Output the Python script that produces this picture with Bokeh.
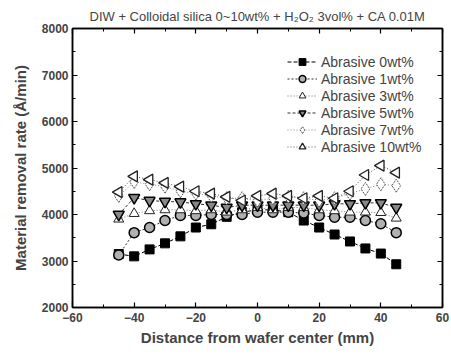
import math
from bokeh.plotting import figure
from bokeh.models import LinearAxis, Range1d, Legend, LegendItem, FixedTicker, ColumnDataSource
from bokeh.embed import file_html
from bokeh.resources import INLINE

distance = [-45, -40, -35, -30, -25, -20, -15, -10, -5, 0, 5, 10, 15, 20, 25, 30, 35, 40, 45]
abr0 = [3150, 3100, 3250, 3380, 3530, 3720, 3790, 3950, 4050, 4100, 4100, 4050, 3870, 3720, 3570, 3420, 3270, 3160, 2930]
abr1 = [3130, 3610, 3720, 3870, 3980, 3980, 4000, 4000, 4000, 4050, 4050, 4050, 4030, 3980, 3940, 3940, 3870, 3800, 3610]
abr3 = [3900, 4020, 4080, 4100, 4100, 4080, 4100, 4050, 4100, 4150, 4100, 4150, 4150, 4100, 4080, 4050, 4050, 4040, 3920]
abr5 = [4000, 4360, 4300, 4280, 4270, 4230, 4200, 4150, 4200, 4200, 4200, 4200, 4200, 4200, 4230, 4230, 4250, 4250, 4150]
abr7 = [4400, 4700, 4650, 4600, 4500, 4450, 4400, 4350, 4350, 4300, 4350, 4380, 4350, 4300, 4350, 4450, 4550, 4650, 4620]
abr10 = [4480, 4820, 4750, 4680, 4600, 4500, 4450, 4380, 4300, 4400, 4450, 4400, 4350, 4400, 4350, 4500, 4850, 5050, 4900]
labels = ["Abrasive 0wt%", "Abrasive 1wt%", "Abrasive 3wt%", "Abrasive 5wt%", "Abrasive 7wt%", "Abrasive 10wt%"]
x_ticks = [-60, -40, -20, 0, 20, 40, 60]
y_ticks = [2000, 3000, 4000, 5000, 6000, 7000, 8000]
title_text = "DIW + Colloidal silica 0~10wt% + H\u2082O\u2082 3vol% + CA 0.01M"

FONT = "Liberation Sans"

p = figure(width=451, height=354, output_backend="svg", toolbar_location=None,
           x_range=Range1d(-60, 60), y_range=Range1d(2000, 8000),
           min_border_left=72, min_border_right=9, min_border_top=28, min_border_bottom=47)
p.title.text = title_text
p.title.align = "center"
p.title.text_font = FONT
p.title.text_font_style = "normal"
p.title.text_font_size = "13px"
p.title.offset = 30
p.grid.visible = False
p.outline_line_color = "black"
p.outline_line_width = 1.5

def style_axis(ax, show_labels=True, ticks=None):
    ax.major_tick_in = 5
    ax.major_tick_out = 0
    ax.minor_tick_in = 3
    ax.minor_tick_out = 0
    ax.axis_line_width = 1.5
    ax.major_tick_line_width = 1.2
    ax.major_label_text_font = FONT
    ax.major_label_text_font_style = "bold"
    ax.major_label_text_font_size = "12px"
    ax.axis_label_text_font = FONT
    ax.axis_label_text_font_style = "bold"
    ax.axis_label_text_font_size = "15px"
    if not show_labels:
        ax.major_label_overrides = {t: "" for t in ticks}

xa = p.xaxis[0]
xa.ticker = FixedTicker(ticks=x_ticks, minor_ticks=list(range(-60, 61, 10)))
xa.axis_label = "Distance from wafer center (mm)"
style_axis(xa)
xa.major_label_standoff = 5
xa.axis_label_standoff = 4
ya = p.yaxis[0]
ya.ticker = FixedTicker(ticks=y_ticks, minor_ticks=list(range(2000, 8001, 500)))
ya.axis_label = "Material removal rate (\u00c5/min)"
style_axis(ya)
ya.major_label_standoff = 4
ya.axis_label_standoff = 10

top = LinearAxis(ticker=FixedTicker(ticks=x_ticks, minor_ticks=list(range(-60, 61, 10))))
style_axis(top, False, x_ticks)
top.major_label_standoff = 0
p.add_layout(top, "above")
right = LinearAxis(ticker=FixedTicker(ticks=y_ticks, minor_ticks=list(range(2000, 8001, 500))))
style_axis(right, False, y_ticks)
right.major_label_standoff = 0
p.add_layout(right, "right")

src10 = ColumnDataSource(dict(x=distance, y=abr10, ang=[math.pi / 2] * len(distance)))

series = [
    (abr0, dict(marker="square", size=9, fill_color="black", line_color="black"), "4 2", "black"),
    (abr1, dict(marker="circle", size=10, fill_color="#b0b0b0", line_color="black", line_width=1.5), "2 2", "#333333"),
    (abr3, dict(marker="triangle", size=10, fill_color="white", line_color="#222222"), "1 2", "#777777"),
    (abr5, dict(marker="inverted_triangle", size=11, fill_color="#888888", line_color="black", line_width=1.5), "3 2", "#333333"),
    (abr7, dict(marker="diamond", size=13, fill_color="white", line_color="#555555", line_dash="2 1"), "1 2", "#888888"),
]
items = []
for vals, mk, dash, lc in series:
    ln = p.line(distance, vals, line_color=lc, line_dash=dash, line_width=1)
    sc = p.scatter(distance, vals, **mk)
    items.append((ln, sc))
ln10 = p.line("x", "y", source=src10, line_color="#555555", line_dash="1 2", line_width=1)
sc10 = p.scatter("x", "y", source=src10, marker="triangle", angle="ang", size=11,
                 fill_color="white", line_color="#222222", line_width=1.3)
items.append((ln10, sc10))

legend = Legend(items=[LegendItem(label=l, renderers=list(r)) for l, r in zip(labels, items)],
                location=(212, 149))
legend.border_line_alpha = 0
legend.background_fill_alpha = 0
legend.label_text_font = FONT
legend.label_text_font_size = "14px"
legend.glyph_width = 30
legend.glyph_height = 17
legend.label_height = 17
legend.spacing = 0
legend.padding = 3
legend.margin = 0
legend.label_standoff = 4
p.add_layout(legend)

open("out.html", "w").write(file_html(p, INLINE))
